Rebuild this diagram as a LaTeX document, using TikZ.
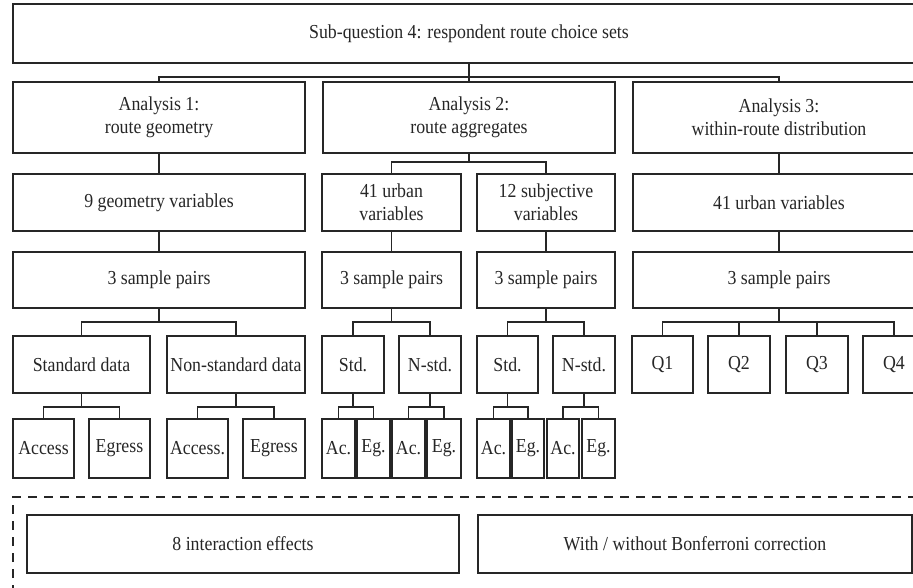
\documentclass[tikz,border=0pt]{standalone}
\usepackage{fontspec}
\setmainfont{Liberation Serif}[FakeStretch=0.9]
\tikzset{
  box/.style={draw=black!85, line width=2.6pt, rectangle, inner sep=0pt, align=center,
    text=black!85, font=\fontsize{19.8}{23}\selectfont},
  conn/.style={draw=black!85, line width=1.2pt},
  dashbox/.style={draw=black!85, line width=1.8pt, dash pattern=on 9pt off 7pt},
}
\newcommand\bx[6]{\node[box, minimum width=#4pt, minimum height=#5pt] (#1) at (#2,#3) {#6};}
\begin{document}
\begin{tikzpicture}[x=1pt,y=-1pt]
\useasboundingbox (0,0) rectangle (913,588);
\clip (0,0) rectangle (913,588);
% row 0
\bx{top}{469}{33.5}{912}{59}{Sub-question 4: respondent route choice sets}
% row 1
\bx{A1}{159}{117.5}{292}{71}{Analysis 1:\\route geometry}
\bx{A2}{469}{117.5}{292}{71}{Analysis 2:\\route aggregates}
\bx{A3}{779}{117.5}{292}{71}{Analysis 3:\\within-route distribution}
% row 2
\bx{V1}{159}{202.5}{292}{57}{9 geometry variables}
\bx{V2}{391.5}{202.5}{139}{57}{41 urban\\variables}
\bx{V3}{546}{202.5}{138}{57}{12 subjective\\variables}
\bx{V4}{779}{202.5}{292}{57}{41 urban variables}
% row 3
\bx{P1}{159}{280}{292}{56}{3 sample pairs}
\bx{P2}{391.5}{280}{139}{56}{3 sample pairs}
\bx{P3}{546}{280}{138}{56}{3 sample pairs}
\bx{P4}{779}{280}{292}{56}{3 sample pairs}
% row 4
\bx{S1}{81.5}{364.5}{137}{57}{Standard data}
\bx{N1}{236}{364.5}{138}{57}{Non-standard data}
\bx{S2}{353}{364.5}{62}{57}{Std.}
\bx{N2}{430}{364.5}{62}{57}{N-std.}
\bx{S3}{507.5}{364.5}{61}{57}{Std.}
\bx{N3}{584}{364.5}{62}{57}{N-std.}
\bx{Q1}{662.5}{364.5}{61}{57}{Q1}
\bx{Q2}{739}{364.5}{62}{57}{Q2}
\bx{Q3}{817}{364.5}{62}{57}{Q3}
\bx{Q4}{894}{364.5}{62}{57}{Q4}
% row 5
\bx{a1}{43.5}{448.5}{61}{59}{Access}
\bx{e1}{119.5}{448.5}{61}{59}{Egress}
\bx{a2}{197.5}{448.5}{61}{59}{Access.}
\bx{e2}{274}{448.5}{62}{59}{Egress}
\bx{a3}{338.5}{448.5}{33}{59}{Ac.}
\bx{e3}{373.5}{448.5}{33}{59}{Eg.}
\bx{a4}{408.5}{448.5}{33}{59}{Ac.}
\bx{e4}{444}{448.5}{34}{59}{Eg.}
\bx{a5}{493.5}{448.5}{33}{59}{Ac.}
\bx{e5}{528}{448.5}{32}{59}{Eg.}
\bx{a6}{563}{448.5}{32}{59}{Ac.}
\bx{e6}{598.5}{448.5}{33}{59}{Eg.}
% dashed region
\draw[dashbox] (13,610) -- (13,497) -- (940,497);
\bx{I1}{243}{544}{432}{58}{8 interaction effects}
\bx{I2}{695}{544}{434}{58}{With / without Bonferroni correction}
% junctions
\coordinate (j0) at (469,77);
\coordinate (j2) at (469,162);
\coordinate (jP1) at (159,322);
\coordinate (jP2) at (391.5,322);
\coordinate (jP3) at (546,322);
\coordinate (jP4) at (779,322);
\coordinate (jS1) at (81.5,407);
\coordinate (jN1) at (236,407);
\coordinate (jS2) at (353,407);
\coordinate (jN2) at (430,407);
\coordinate (jS3) at (507.5,407);
\coordinate (jN3) at (584,407);
% connectors
\draw[conn] (top.south) -- (A2.north);
\draw[conn] (A1.north) |- (j0) -| (A3.north);
\draw[conn] (A1.south) -- (V1.north);
\draw[conn] (A2.south) -- (j2);
\draw[conn] (V2.north) |- (j2) -| (V3.north);
\draw[conn] (A3.south) -- (V4.north);
\draw[conn] (V1.south) -- (P1.north);
\draw[conn] (V2.south) -- (P2.north);
\draw[conn] (V3.south) -- (P3.north);
\draw[conn] (V4.south) -- (P4.north);
\draw[conn] (P1.south) -- (jP1);
\draw[conn] (S1.north) |- (jP1) -| (N1.north);
\draw[conn] (P2.south) -- (jP2);
\draw[conn] (S2.north) |- (jP2) -| (N2.north);
\draw[conn] (P3.south) -- (jP3);
\draw[conn] (S3.north) |- (jP3) -| (N3.north);
\draw[conn] (P4.south) -- (jP4);
\draw[conn] (Q1.north) |- (jP4) -| (Q4.north);
\draw[conn] (Q2.north) -- (Q2.north |- jP4);
\draw[conn] (Q3.north) -- (Q3.north |- jP4);
\draw[conn] (S1.south) -- (jS1);
\draw[conn] (a1.north) |- (jS1) -| (e1.north);
\draw[conn] (N1.south) -- (jN1);
\draw[conn] (a2.north) |- (jN1) -| (e2.north);
\draw[conn] (S2.south) -- (jS2);
\draw[conn] (a3.north) |- (jS2) -| (e3.north);
\draw[conn] (N2.south) -- (jN2);
\draw[conn] (a4.north) |- (jN2) -| (e4.north);
\draw[conn] (S3.south) -- (jS3);
\draw[conn] (a5.north) |- (jS3) -| (e5.north);
\draw[conn] (N3.south) -- (jN3);
\draw[conn] (a6.north) |- (jN3) -| (e6.north);
\end{tikzpicture}
\end{document}
